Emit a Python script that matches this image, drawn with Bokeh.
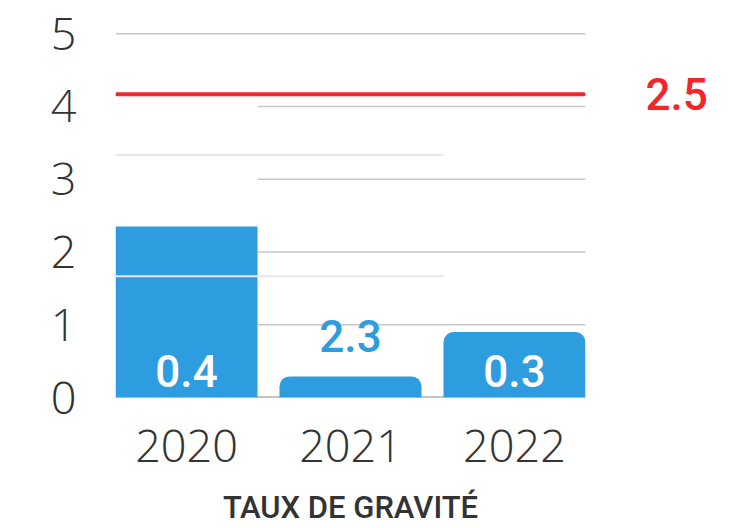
from bokeh.plotting import figure
from bokeh.models import Range1d, ColumnDataSource, CDSView, IndexFilter, FixedTicker, LinearAxis
from bokeh.core.properties import value
from bokeh.embed import file_html
from bokeh.resources import INLINE

# ---- data ----
years = ["2020", "2021", "2022"]
bar_values = [2.35, 0.29, 0.9]
bar_labels = ["0.4", "2.3", "0.3"]
target_value = 2.5
target_label = "2.5"
y_ticks = [0, 1, 2, 3, 4, 5]
grid_a_partial = [1, 2, 3, 4]
grid_a_full = [5]
grid_b = [1, 2]
x_title = "TAUX DE GRAVITÉ"

# ---- positions / styles ----
x_pos = [0, 1, 2]
label_y = [0.36, 0.85, 0.37]
bar_w = 0.866
x_start, x_end = -0.433, 2.433
a_top = 5.182
b_top = a_top * 0.6

BLUE = "#2e9de0"
RED = "#f4262b"
TXT = "#333333"
AX_FONT = "Open Sans Light, Open Sans"
NUM_FONT = "Roboto Medium, Roboto"

p = figure(width=734, height=528, output_backend="svg", toolbar_location=None,
           x_range=Range1d(x_start, x_end), y_range=Range1d(0, a_top),
           min_border_left=115, min_border_right=149, min_border_top=20,
           min_border_bottom=129)
p.extra_y_ranges = {"b": Range1d(0, b_top)}
p.outline_line_color = None
p.grid.visible = False

# axes
p.yaxis.ticker = FixedTicker(ticks=y_ticks)
p.xaxis.ticker = FixedTicker(ticks=x_pos)
p.xaxis.major_label_overrides = {x: y for x, y in zip(x_pos, years)}
for ax in (p.xaxis, p.yaxis):
    ax.axis_line_color = None
    ax.major_tick_line_color = None
    ax.minor_tick_line_color = None
    ax.major_label_text_font = AX_FONT
    ax.major_label_text_font_size = "45px"
    ax.major_label_text_color = TXT
p.yaxis.major_label_standoff = 33
p.xaxis.major_label_standoff = 26
p.xaxis.axis_label = x_title
p.xaxis.axis_label_text_font = NUM_FONT
p.xaxis.axis_label_text_font_style = "normal"
p.xaxis.axis_label_text_font_size = "31px"
p.xaxis.axis_label_text_color = TXT
p.xaxis.axis_label_standoff = 24

# right axis carrying the target value label
raxis = LinearAxis(y_range_name="b", ticker=FixedTicker(ticks=[target_value]),
                   major_label_overrides={target_value: target_label},
                   axis_line_color=None, major_tick_line_color=None,
                   minor_tick_line_color=None, major_label_standoff=54,
                   major_label_text_font=NUM_FONT, major_label_text_font_size="44px",
                   major_label_text_color=RED)
p.add_layout(raxis, "right")

# gridlines (scale A)
p.segment(x0=[bar_w / 2] * len(grid_a_partial), x1=[x_end] * len(grid_a_partial),
          y0=grid_a_partial, y1=grid_a_partial, line_color="#c8c8c8", line_width=1.5)
p.segment(x0=[x_start] * len(grid_a_full), x1=[x_end] * len(grid_a_full),
          y0=grid_a_full, y1=grid_a_full, line_color="#c8c8c8", line_width=1.5)
# baseline
p.segment(x0=[x_start], x1=[x_end], y0=[0], y1=[0], line_color="#8a8a8a", line_width=2)

# bars
src = ColumnDataSource(dict(x=x_pos, top=bar_values, year=years))
p.vbar(x="x", top="top", width=bar_w, source=src, view=CDSView(filter=IndexFilter([0])),
       fill_color=BLUE, line_color=None)
p.vbar(x="x", top="top", width=bar_w, source=src, view=CDSView(filter=IndexFilter([1, 2])),
       fill_color=BLUE, line_color=None, border_radius=(10, 10, 0, 0))

# light gridlines (scale B), drawn on top of bars
p.segment(x0=[x_start] * len(grid_b), x1=[2 - bar_w / 2] * len(grid_b),
          y0=grid_b, y1=grid_b, y_range_name="b", line_color="#e8e8e8", line_width=2)

# target line
p.segment(x0=[x_start + 0.01], x1=[x_end - 0.01], y0=[target_value], y1=[target_value],
          y_range_name="b", line_color=RED, line_width=4, line_cap="round")

# value labels
p.text(x=x_pos, y=label_y, text=bar_labels, text_color=["white", BLUE, "white"],
       text_align="center", text_baseline="middle", text_font=value(NUM_FONT),
       text_font_size="44px")

open("out.html", "w").write(file_html(p, INLINE))
